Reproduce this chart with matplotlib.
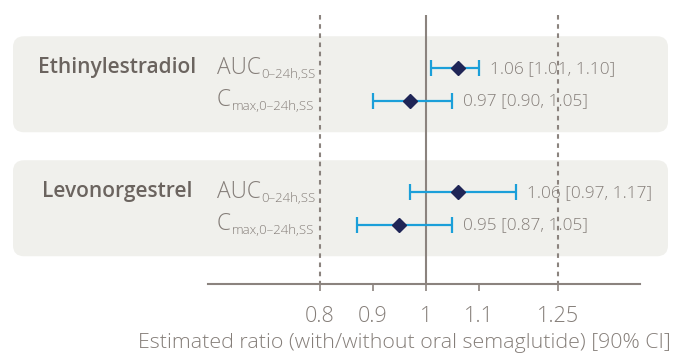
import matplotlib
matplotlib.use("Agg")
import matplotlib.pyplot as plt
from matplotlib.patches import FancyBboxPatch

# --- data ---------------------------------------------------------------
drugs = ["Ethinylestradiol", "Levonorgestrel"]
param_main = ["AUC", "C"]
param_sub = ["0–24h,SS", "max,0–24h,SS"]
estimate = [[1.06, 0.97], [1.06, 0.95]]
ci_low = [[1.01, 0.90], [0.97, 0.87]]
ci_high = [[1.10, 1.05], [1.17, 1.05]]
tick_values = [0.8, 0.9, 1, 1.1, 1.25]
tick_labels = ["0.8", "0.9", "1", "1.1", "1.25"]
equivalence_bounds = [0.8, 1.25]
xlabel = "Estimated ratio (with/without oral semaglutide) [90% CI]"

# --- style --------------------------------------------------------------
W, H = 673, 356
TEXT = "#857e79"
DARK_TEXT = "#6b645f"
AXIS = "#8b837e"
BOX = "#f0f0ec"
DIAMOND = "#1f2556"
BAR = "#1b9fd9"

plt.rcParams["font.family"] = ["Open Sans", "DejaVu Sans"]

fig = plt.figure(figsize=(W / 100, H / 100), dpi=100)
ax = fig.add_axes([0, 0, 1, 1])
ax.set_facecolor("none")

# ratio scale: 529 px per unit, ratio 1 at x = 425.8 px
PX_PER_UNIT = 529.0
X_ONE = 425.8
x0 = 1 - X_ONE / PX_PER_UNIT
ax.set_xlim(x0, x0 + W / PX_PER_UNIT)
ax.set_ylim(H, 0)  # vertical positions measured in pixels from the top


def px_to_x(p):
    return x0 + p / PX_PER_UNIT


AXIS_Y = 284
TOP_Y = 15
GROUP_Y = [68, 192]
ROW_STEP = 32.5

# background panels
for g in range(len(drugs)):
    yc = GROUP_Y[g] + ROW_STEP / 2
    box = FancyBboxPatch(
        (px_to_x(13), yc - 48), px_to_x(668) - px_to_x(13), 96,
        boxstyle="round,pad=0,rounding_size=%f" % (11 / PX_PER_UNIT),
        mutation_aspect=PX_PER_UNIT,
        facecolor=BOX, edgecolor="none", zorder=0,
    )
    ax.add_patch(box)

# reference lines
ax.vlines(1, TOP_Y, AXIS_Y, color=AXIS, lw=1.5, zorder=1)
ax.vlines(equivalence_bounds, TOP_Y, AXIS_Y, color=AXIS, lw=1.5,
          linestyles=(0, (2.2, 2.2)), zorder=1)

# estimates with confidence intervals
for g, drug in enumerate(drugs):
    ax.text(px_to_x(117.5), GROUP_Y[g], drug, ha="center", va="center",
            fontsize=15, fontweight="semibold", color=DARK_TEXT)
    for r in range(2):
        y = GROUP_Y[g] + r * ROW_STEP
        e, lo, hi = estimate[g][r], ci_low[g][r], ci_high[g][r]
        ax.errorbar(e, y, xerr=[[e - lo], [hi - e]], fmt="none",
                    ecolor=BAR, elinewidth=1.6, capsize=6, capthick=1.6,
                    zorder=3)
        ax.plot(e, y, marker="D", markersize=7.5, color=DIAMOND,
                linestyle="none", zorder=4)
        ax.text(hi + 11 / PX_PER_UNIT, y + 1, f"{e:.2f} [{lo:.2f}, {hi:.2f}]",
                ha="left", va="center", fontsize=12.4, color=TEXT,
                fontweight="light")
        main = ax.text(px_to_x(217), y, param_main[r], ha="left",
                       va="center", fontsize=16.3, color=TEXT,
                       fontweight="light")
        ax.annotate(param_sub[r], xy=(1, 0), xycoords=main,
                    xytext=(0.5, 1.5), textcoords="offset points",
                    ha="left", va="baseline", fontsize=9.5, color=TEXT,
                    fontweight="light")

# x axis
for side in ["top", "right", "left"]:
    ax.spines[side].set_visible(False)
ax.spines["bottom"].set_position(("data", AXIS_Y))
ax.spines["bottom"].set_bounds(px_to_x(208), px_to_x(640))
ax.spines["bottom"].set_color(AXIS)
ax.spines["bottom"].set_linewidth(1.5)
ax.set_yticks([])
ax.set_xticks(tick_values)
ax.set_xticklabels(tick_labels)
ax.tick_params(axis="x", direction="out", length=5, width=1.2, color=AXIS,
               labelcolor=TEXT, labelsize=15.5, pad=10.5)
for lbl in ax.get_xticklabels():
    lbl.set_fontweight("light")

ax.text(px_to_x(404.5), 343, xlabel, ha="center", va="center",
        fontsize=15.4, color=TEXT, fontweight="light")

fig.savefig("out.png", dpi=100)
